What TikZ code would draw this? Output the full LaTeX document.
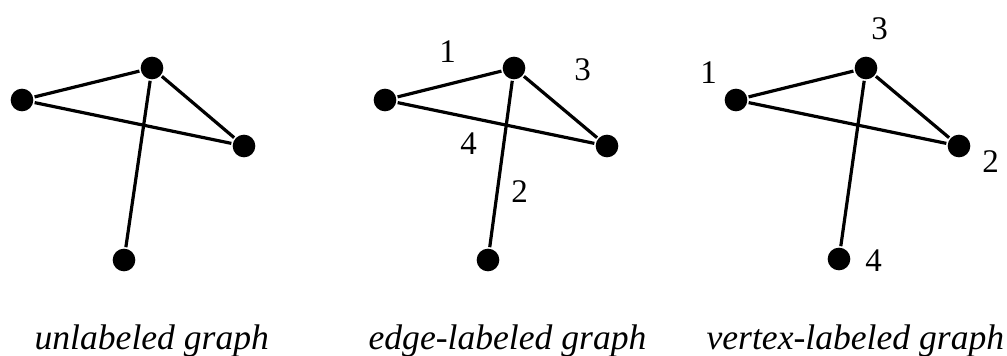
\documentclass[tikz,border=0pt]{standalone}
\usepackage{fontspec}
\setmainfont{LiberationSerif}[Extension=.ttf,UprightFont=*-Regular,ItalicFont=*-Italic,BoldFont=*-Bold]

\tikzset{every picture/.style={line width=2.4pt}}
\tikzset{vertex/.style={circle,fill=black,inner sep=0pt,minimum size=17pt}}
\newcommand{\lblfont}{\fontsize{24.75}{30}\selectfont}
\newcommand{\capfont}{\fontsize{26.7}{32}\selectfont\itshape}

\begin{document}
\begin{tikzpicture}[x=0.75pt,y=0.75pt,yscale=-1,xscale=1]
\useasboundingbox (0,0) rectangle (1007,356);

%Shape: Vertices, unlabeled
\node (u1) [vertex] at (22,100) {};
\node (u2) [vertex] at (152,68) {};
\node (u3) [vertex] at (244,146) {};
\node (u4) [vertex] at (124,260) {};
%Straight Lines
\draw (u1) -- (u2) ;
\draw (u1) -- (u3) ;
\draw (u2) -- (u3) ;
\draw (u2) -- (u4) ;

%Shape: Vertices, edge-labeled
\node (e1) [vertex] at (385,100) {};
\node (e2) [vertex] at (514,68) {};
\node (e3) [vertex] at (607,146) {};
\node (e4) [vertex] at (488,260) {};
%Straight Lines
\draw (e1) -- (e2) ;
\draw (e1) -- (e3) ;
\draw (e2) -- (e3) ;
\draw (e2) -- (e4) ;

%Shape: Vertices, vertex-labeled
\node (v1) [vertex] at (736,100) {};
\node (v2) [vertex] at (866,68) {};
\node (v3) [vertex] at (959,146) {};
\node (v4) [vertex] at (839,259) {};
%Straight Lines
\draw (v1) -- (v2) ;
\draw (v1) -- (v3) ;
\draw (v2) -- (v3) ;
\draw (v2) -- (v4) ;

% Text Node
\draw (436.75,37.8) node [anchor=north west][inner sep=0.75pt] (el1) {\lblfont 1};
% Text Node
\draw (571.75,55.8) node [anchor=north west][inner sep=0.75pt] (el3) {\lblfont 3};
% Text Node
\draw (457.75,129.8) node [anchor=north west][inner sep=0.75pt] (el4) {\lblfont 4};
% Text Node
\draw (508.75,177.8) node [anchor=north west][inner sep=0.75pt] (el2) {\lblfont 2};

% Text Node
\draw (697.75,58.8) node [anchor=north west][inner sep=0.75pt] (vl1) {\lblfont 1};
% Text Node
\draw (868.75,14.8) node [anchor=north west][inner sep=0.75pt] (vl3) {\lblfont 3};
% Text Node
\draw (979.75,147.8) node [anchor=north west][inner sep=0.75pt] (vl2) {\lblfont 2};
% Text Node
\draw (862.75,246.8) node [anchor=north west][inner sep=0.75pt] (vl4) {\lblfont 4};

% Text Node
\draw (32,321.7) node [anchor=north west][inner sep=0.75pt] (cap1) {\capfont unlabeled graph};
% Text Node
\draw (366,321.7) node [anchor=north west][inner sep=0.75pt] (cap2) {\capfont edge-labeled graph};
% Text Node
\draw (704,321.7) node [anchor=north west][inner sep=0.75pt] (cap3) {\capfont vertex-labeled graph};

\end{tikzpicture}
\end{document}
